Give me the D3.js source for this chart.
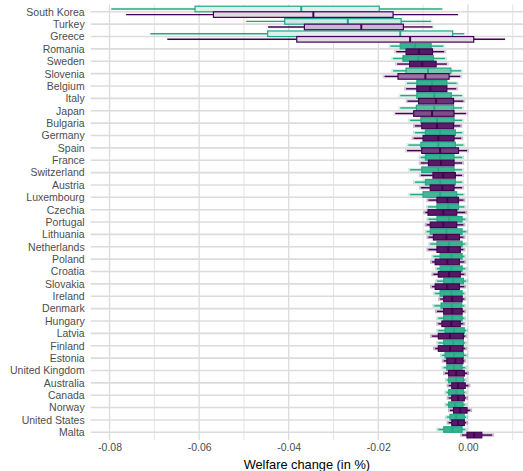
<!DOCTYPE html>
<html>
<head>
<meta charset="utf-8">
<script src="https://cdn.jsdelivr.net/npm/d3@7"></script>
<style>
  body { margin: 0; background: #fff; }
  text { font-family: "Liberation Sans", Arial, sans-serif; }
</style>
</head>
<body>
<svg width="523" height="471"></svg>
<script>
// countries, top to bottom
var countries = ["South Korea", "Turkey", "Greece", "Romania", "Sweden", "Slovenia",
  "Belgium", "Italy", "Japan", "Bulgaria", "Germany", "Spain", "France", "Switzerland",
  "Austria", "Luxembourg", "Czechia", "Portugal", "Lithuania", "Netherlands", "Poland",
  "Croatia", "Slovakia", "Ireland", "Denmark", "Hungary", "Latvia", "Finland", "Estonia",
  "United Kingdom", "Australia", "Canada", "Norway", "United States", "Malta"];

// box stats per country: [lower whisker, q1, median, q3, upper whisker]
var tealStats = [
  [-0.0796, -0.0609, -0.0372, -0.0198, -0.0057],
  [-0.0495, -0.0409, -0.0268, -0.0149, -0.0082],
  [-0.0709, -0.0447, -0.0151, -0.0034, -0.0008],
  [-0.0173, -0.0151, -0.0118, -0.0082, -0.0055],
  [-0.0167, -0.0145, -0.0111, -0.0077, -0.0051],
  [-0.0167, -0.0138, -0.0089, -0.0038, -0.0015],
  [-0.0136, -0.0114, -0.0080, -0.0047, -0.0025],
  [-0.0151, -0.0114, -0.0075, -0.0037, -0.0013],
  [-0.0151, -0.0115, -0.0075, -0.0032, -0.0013],
  [-0.0129, -0.0105, -0.0069, -0.0031, -0.0013],
  [-0.0118, -0.0095, -0.0062, -0.0028, -0.0013],
  [-0.0133, -0.0105, -0.0066, -0.0028, -0.0010],
  [-0.0105, -0.0095, -0.0062, -0.0031, -0.0013],
  [-0.0129, -0.0103, -0.0066, -0.0031, -0.0013],
  [-0.0118, -0.0095, -0.0062, -0.0028, -0.0013],
  [-0.0129, -0.0100, -0.0062, -0.0025, -0.0010],
  [-0.0089, -0.0069, -0.0044, -0.0021, -0.0008],
  [-0.0088, -0.0069, -0.0042, -0.0013, -0.0006],
  [-0.0092, -0.0084, -0.0048, -0.0013, -0.0004],
  [-0.0084, -0.0069, -0.0042, -0.0013, -0.0006],
  [-0.0077, -0.0062, -0.0037, -0.0013, -0.0008],
  [-0.0069, -0.0062, -0.0037, -0.0013, -0.0006],
  [-0.0069, -0.0054, -0.0033, -0.0010, -0.0004],
  [-0.0073, -0.0062, -0.0037, -0.0013, -0.0008],
  [-0.0075, -0.0060, -0.0036, -0.0014, -0.0008],
  [-0.0066, -0.0054, -0.0035, -0.0013, -0.0008],
  [-0.0066, -0.0051, -0.0031, -0.0008, -0.0004],
  [-0.0066, -0.0054, -0.0033, -0.0010, -0.0006],
  [-0.0058, -0.0051, -0.0031, -0.0010, -0.0004],
  [-0.0054, -0.0047, -0.0031, -0.0013, -0.0006],
  [-0.0047, -0.0043, -0.0026, -0.0010, -0.0006],
  [-0.0048, -0.0043, -0.0026, -0.0010, -0.0006],
  [-0.0048, -0.0043, -0.0028, -0.0011, -0.0006],
  [-0.0047, -0.0040, -0.0026, -0.0008, -0.0004],
  [-0.0066, -0.0054, -0.0035, -0.0013, -0.0006]
];

var purpleStats = [
  [-0.0763, -0.0568, -0.0345, -0.0167, -0.0022],
  [-0.0446, -0.0365, -0.0238, -0.0144, -0.0079],
  [-0.0671, -0.0382, -0.0129, 0.0013, 0.0083],
  [-0.0160, -0.0138, -0.0109, -0.0079, -0.0053],
  [-0.0158, -0.0130, -0.0102, -0.0071, -0.0047],
  [-0.0186, -0.0156, -0.0095, -0.0042, -0.0017],
  [-0.0138, -0.0114, -0.0084, -0.0047, -0.0026],
  [-0.0135, -0.0110, -0.0071, -0.0032, -0.0010],
  [-0.0162, -0.0121, -0.0080, -0.0031, -0.0004],
  [-0.0118, -0.0103, -0.0069, -0.0032, -0.0017],
  [-0.0121, -0.0100, -0.0066, -0.0031, -0.0015],
  [-0.0136, -0.0103, -0.0062, -0.0021, -0.0002],
  [-0.0105, -0.0088, -0.0060, -0.0031, -0.0013],
  [-0.0105, -0.0078, -0.0055, -0.0028, -0.0013],
  [-0.0105, -0.0084, -0.0057, -0.0031, -0.0013],
  [-0.0088, -0.0069, -0.0046, -0.0021, -0.0010],
  [-0.0095, -0.0089, -0.0055, -0.0025, -0.0006],
  [-0.0092, -0.0084, -0.0055, -0.0025, -0.0010],
  [-0.0088, -0.0077, -0.0048, -0.0019, -0.0010],
  [-0.0088, -0.0069, -0.0044, -0.0017, -0.0010],
  [-0.0080, -0.0073, -0.0046, -0.0019, -0.0008],
  [-0.0077, -0.0066, -0.0042, -0.0017, -0.0008],
  [-0.0080, -0.0073, -0.0046, -0.0019, -0.0008],
  [-0.0062, -0.0054, -0.0035, -0.0013, -0.0008],
  [-0.0069, -0.0054, -0.0035, -0.0013, -0.0008],
  [-0.0066, -0.0058, -0.0037, -0.0017, -0.0010],
  [-0.0080, -0.0066, -0.0040, -0.0010, -0.0006],
  [-0.0073, -0.0066, -0.0040, -0.0011, -0.0006],
  [-0.0054, -0.0047, -0.0028, -0.0011, -0.0008],
  [-0.0051, -0.0043, -0.0026, -0.0008, -0.0002],
  [-0.0043, -0.0036, -0.0022, -0.0006, 0.0001],
  [-0.0043, -0.0036, -0.0022, -0.0008, -0.0004],
  [-0.0040, -0.0032, -0.0017, -0.0002, 0.0005],
  [-0.0043, -0.0036, -0.0022, -0.0008, -0.0004],
  [-0.0013, -0.0002, 0.0014, 0.0031, 0.0054]
];

var xTicks = [-0.08, -0.06, -0.04, -0.02, 0.00];
var xMinor = [-0.07, -0.05, -0.03, -0.01, 0.01];

var tealColor = "#22A884",
  purpleColor = "#440154";

var svg = d3.select("svg"),
  width = +svg.attr("width"),
  height = +svg.attr("height");

var x = d3.scaleLinear().domain([-0.0842, 0.0123]).range([90.7, 523]);
var y = d3.scalePoint().domain(countries).range([11.8, 432.3]);
var step = y.step();
var boxH = step * 0.45;

// gridlines
var grid = svg.append("g");
grid.selectAll(".minor").data(xMinor).enter().append("line")
  .attr("x1", d => x(d)).attr("x2", d => x(d))
  .attr("y1", 4.5).attr("y2", 440)
  .attr("stroke", "#e4e4e4").attr("stroke-width", 1);
grid.selectAll(".major").data(xTicks).enter().append("line")
  .attr("x1", d => x(d)).attr("x2", d => x(d))
  .attr("y1", 4.5).attr("y2", 440)
  .attr("stroke", "#dcdcdc").attr("stroke-width", 1.3);
grid.selectAll(".hline").data(countries).enter().append("line")
  .attr("x1", 90.7).attr("x2", width)
  .attr("y1", d => y(d)).attr("y2", d => y(d))
  .attr("stroke", "#dcdcdc").attr("stroke-width", 1.6);

function drawSeries(stats, color, offset) {
  var g = svg.append("g");
  stats.forEach(function (s, i) {
    var cy = y(countries[i]) + offset;
    var top = cy - boxH / 2;
    var x0 = x(s[1]), x1 = x(s[3]);
    var wlo = x(s[0]), whi = x(s[4]);
    var boxW = x1 - x0;
    var outW = Math.max(1, (whi - wlo) - boxW);
    // faint band for the points lying between the whiskers
    g.append("rect")
      .attr("x", wlo - 2).attr("y", top + 1)
      .attr("width", whi - wlo + 4).attr("height", boxH - 2)
      .attr("fill", color)
      .attr("opacity", Math.min(0.3, 4 / outW));
    // whiskers
    g.append("line")
      .attr("x1", wlo).attr("x2", x0).attr("y1", cy).attr("y2", cy)
      .attr("stroke", color).attr("stroke-width", 1.4);
    g.append("line")
      .attr("x1", x1).attr("x2", whi).attr("y1", cy).attr("y2", cy)
      .attr("stroke", color).attr("stroke-width", 1.4);
    // box
    g.append("rect")
      .attr("x", x0).attr("y", top)
      .attr("width", boxW).attr("height", boxH)
      .attr("fill", "#fff");
    g.append("rect")
      .attr("x", x0).attr("y", top)
      .attr("width", boxW).attr("height", boxH)
      .attr("fill", color)
      .attr("fill-opacity", Math.min(0.9, 28 / boxW))
      .attr("stroke", color).attr("stroke-width", 1.2);
    // median
    g.append("line")
      .attr("x1", x(s[2])).attr("x2", x(s[2]))
      .attr("y1", top).attr("y2", top + boxH)
      .attr("stroke", color).attr("stroke-width", 2);
  });
}

drawSeries(tealStats, tealColor, -step * 0.225);
drawSeries(purpleStats, purpleColor, step * 0.225);

// axes
var xAxis = svg.append("g")
  .attr("transform", "translate(0,440)")
  .call(d3.axisBottom(x).tickValues(xTicks).tickSize(0).tickPadding(4)
    .tickFormat(d => d.toFixed(2)));
xAxis.select(".domain").remove();
xAxis.selectAll("text")
  .attr("fill", "#4d4d4d").style("font-size", "10.5px")
  .style("font-family", "'Liberation Sans', Arial, sans-serif");

var yAxis = svg.append("g")
  .attr("transform", "translate(90.7,0)")
  .call(d3.axisLeft(y).tickSize(0).tickPadding(6));
yAxis.select(".domain").remove();
yAxis.selectAll("text")
  .attr("fill", "#4d4d4d").style("font-size", "10.5px")
  .style("font-family", "'Liberation Sans', Arial, sans-serif");

svg.append("text")
  .attr("x", (90.7 + width) / 2)
  .attr("y", 468.5)
  .attr("text-anchor", "middle")
  .style("font-size", "12.8px")
  .attr("fill", "#000")
  .text("Welfare change (in %)");
</script>
</body>
</html>
